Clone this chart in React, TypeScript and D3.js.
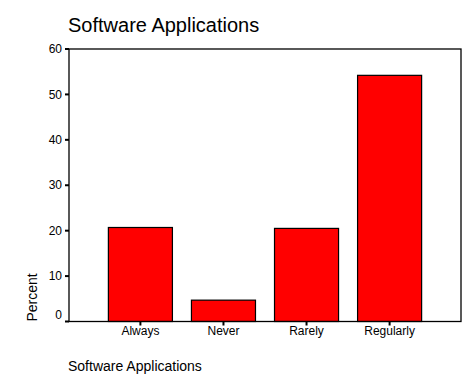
import React from 'react';
import * as d3 from 'd3';

const categories = ['Always', 'Never', 'Rarely', 'Regularly'];
const percents = [20.7, 4.7, 20.5, 54.2];
const yTicks = [0, 10, 20, 30, 40, 50, 60];

function App() {
  const width = 476;
  const height = 389;
  const margin = { top: 49, right: 15, bottom: 67.5, left: 69 };
  const innerWidth = width - margin.left - margin.right;
  const innerHeight = height - margin.top - margin.bottom;

  const xScale = d3.scaleBand()
    .domain(categories)
    .range([0, innerWidth])
    .paddingInner(0.229)
    .paddingOuter(0.474);

  const yScale = d3.scaleLinear()
    .domain([0, 60])
    .range([innerHeight, 0]);

  const font = 'Arial, "Liberation Sans", sans-serif';

  return (
    <svg width={width} height={height}
      style={{ position: 'absolute', left: 0, top: 0, background: '#fff' }}
      fontFamily={font}>
      <text x={68} y={32} fontSize={20} fill="#000">Software Applications</text>

      <g transform={`translate(${margin.left},${margin.top})`}>
        {categories.map((c, i) => (
          <rect key={c}
            x={xScale(c)}
            y={yScale(percents[i])}
            width={xScale.bandwidth()}
            height={innerHeight - yScale(percents[i])}
            fill="#ff0000" stroke="#000" strokeWidth={1.2} />
        ))}

        <rect x={0} y={0} width={innerWidth} height={innerHeight}
          fill="none" stroke="#000" strokeWidth={1.3} />

        {yTicks.map(t => (
          <g key={t} transform={`translate(0,${yScale(t)})`}>
            <line x1={-4} x2={0} y1={0} y2={0} stroke="#000" strokeWidth={2} />
            {/* the zero label sits a little above its tick */}
            <text x={-7} y={t === 0 ? -7 : 0} dy="0.35em" textAnchor="end" fontSize={12} fill="#000">{t}</text>
          </g>
        ))}

        {categories.map(c => {
          const cx = (xScale(c) ?? 0) + xScale.bandwidth() / 2;
          return (
            <g key={c} transform={`translate(${cx},${innerHeight})`}>
              <line x1={0} x2={0} y1={0} y2={4} stroke="#000" strokeWidth={2} />
              <text x={0} y={13.5} textAnchor="middle" fontSize={12} fill="#000">{c}</text>
            </g>
          );
        })}
      </g>

      <text transform={`translate(37,${margin.top + innerHeight}) rotate(-90)`}
        fontSize={14} fill="#000">Percent</text>
      <text x={68} y={371} fontSize={14} fill="#000">Software Applications</text>
    </svg>
  );
}

export default App;
